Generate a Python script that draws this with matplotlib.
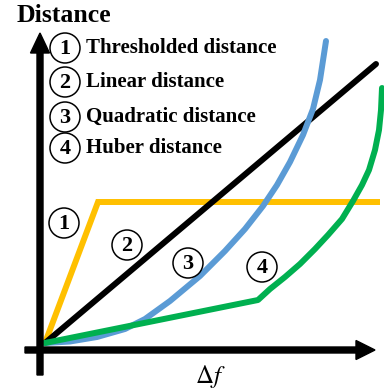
import numpy as np
import matplotlib
matplotlib.use("Agg")
import matplotlib.pyplot as plt
from matplotlib.patches import Circle

plt.rcParams['font.family'] = ['Liberation Serif', 'DejaVu Serif']
plt.rcParams['mathtext.fontset'] = 'stix'

# curve values (delta f, distance)
thresh_x = [0, 53, 335]
thresh_y = [0, 141, 141]
linear_x = [0, 331]
linear_y = [0, 279]
quad_x = [0, 25, 52, 80, 100, 125, 155, 180, 200, 218, 232, 245, 258, 268, 275, 281]
quad_y = [0, 1.5, 6, 14, 24, 42, 67, 92, 114, 137, 158, 181, 208, 234, 263, 302]
huber_x = [0, 213, 225, 240, 255, 270, 283, 297, 308, 317, 324, 330, 334, 336, 337]
huber_y = [0, 43, 54, 66, 79, 94, 108, 124, 142, 158, 173, 193, 213, 233, 255]

legend_labels = ["Thresholded distance", "Linear distance", "Quadratic distance", "Huber distance"]
legend_nums = ["1", "2", "3", "4"]
colors = ["#FFC000", "black", "#5B9BD5", "#00B050"]

fig = plt.figure(figsize=(3.84, 3.91), dpi=100)
ax = fig.add_axes([0, 0, 1, 1])
ax.set_xlim(-45, 339)
ax.set_ylim(-48, 343)
ax.axis('off')

lw = 4.3
ax.plot(thresh_x, thresh_y, color=colors[0], lw=lw, solid_capstyle='butt', solid_joinstyle='miter')
ax.plot(linear_x, linear_y, color=colors[1], lw=lw, solid_capstyle='round')
ax.plot(quad_x, quad_y, color=colors[2], lw=lw, solid_capstyle='round', solid_joinstyle='round')
ax.plot(huber_x, huber_y, color=colors[3], lw=lw, solid_capstyle='round', solid_joinstyle='round')

# axes arrows
ax.arrow(-5, -32, 0, 342, width=6, head_width=19, head_length=20,
         length_includes_head=True, color='black', zorder=5)
ax.arrow(-20, -7, 350, 0, width=6, head_width=19, head_length=19,
         length_includes_head=True, color='black', zorder=5)

def circled(x, y, s):
    ax.add_patch(Circle((x, y), 15, facecolor='white', edgecolor='black', lw=1.1, zorder=6))
    ax.text(x, y - 1, s, ha='center', va='center', fontsize=16, fontweight='bold', zorder=7)

# legend
rows_y = [295, 261, 226, 195]
for num, lab, yy in zip(legend_nums, legend_labels, rows_y):
    circled(20, yy, num)
    ax.text(41, yy, lab, ha='left', va='center', fontsize=15, fontweight='bold', zorder=7)

# labels on the curves
circled(19, 120, "1")
circled(82, 98, "2")
circled(143, 80, "3")
circled(217, 76, "4")

ax.text(19, 328, "Distance", ha='center', va='center', fontsize=18.5, fontweight='bold')
ax.text(165, -33, r'$\Delta f$', ha='center', va='center', fontsize=18)

fig.savefig("out.png", dpi=100)
